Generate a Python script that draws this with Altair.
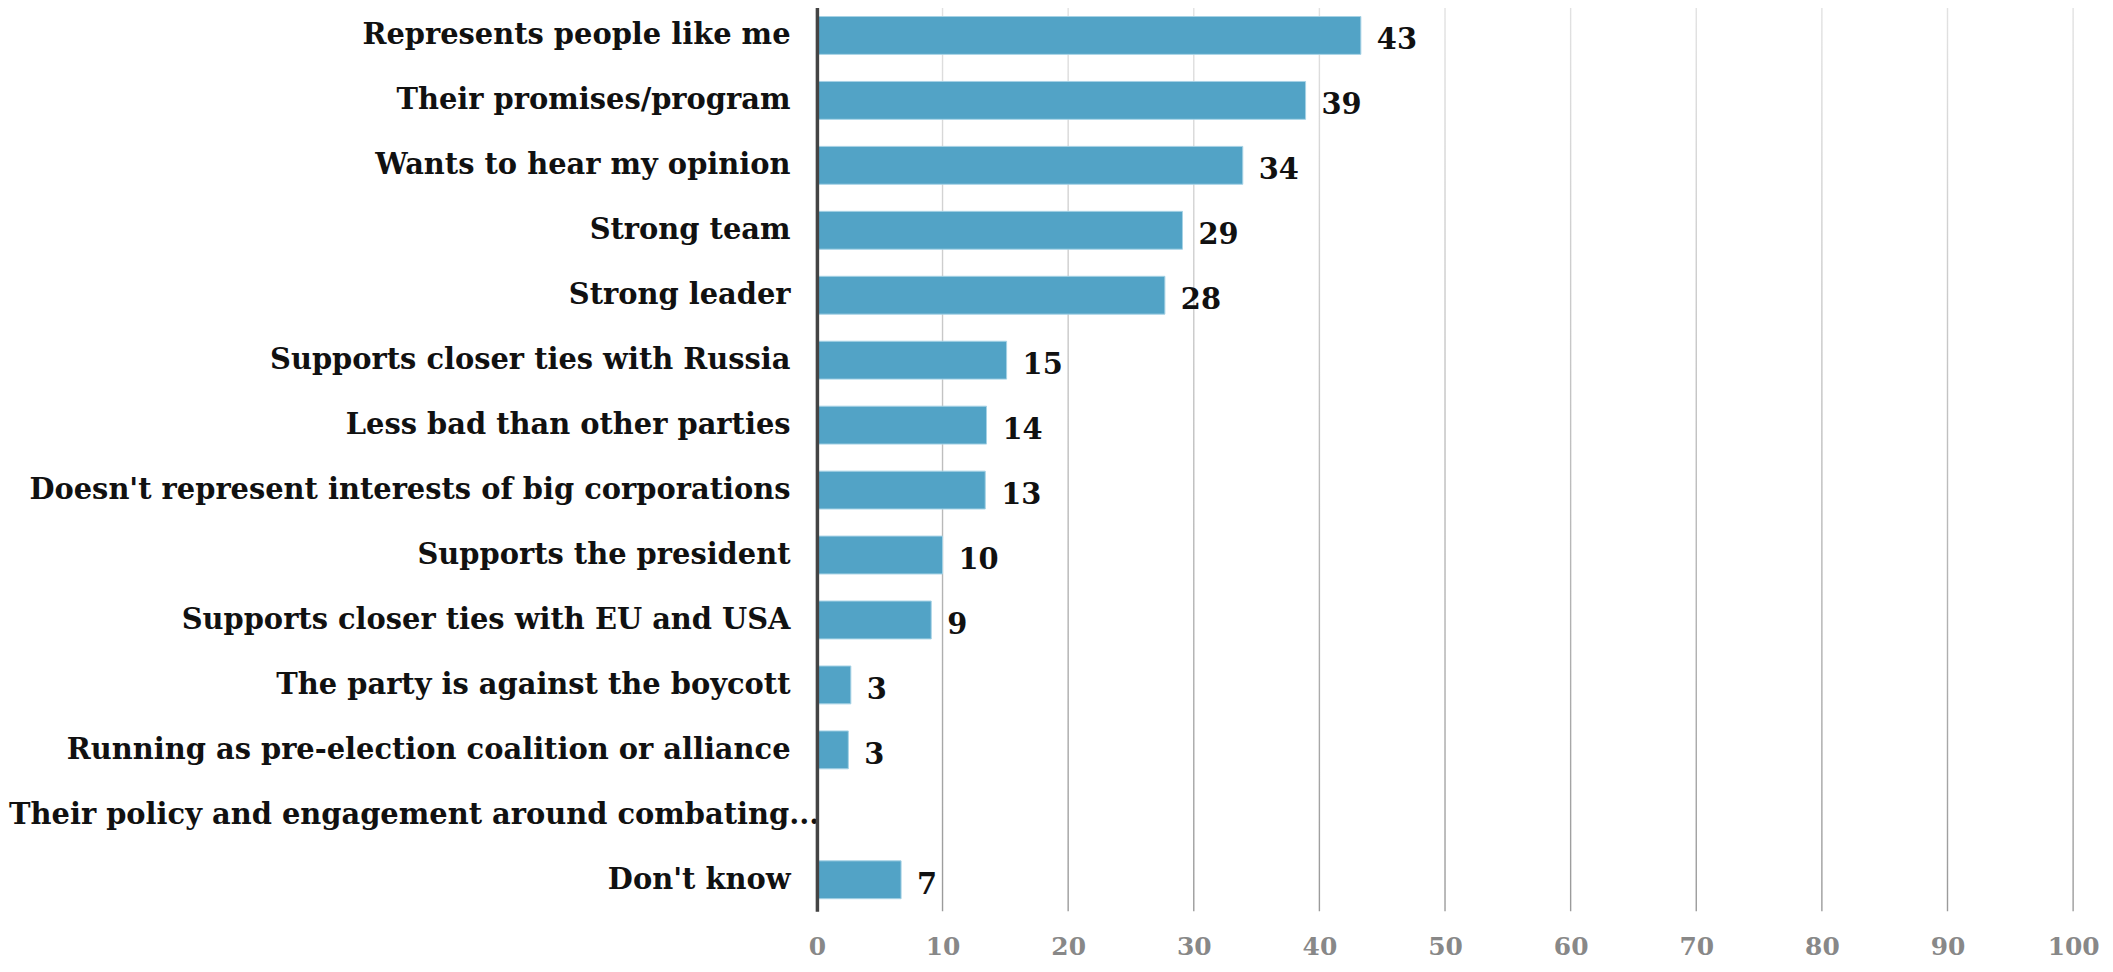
import altair as alt
import pandas as pd

categories = [
    "Represents people like me",
    "Their promises/program",
    "Wants to hear my opinion",
    "Strong team",
    "Strong leader",
    "Supports closer ties with Russia",
    "Less bad than other parties",
    "Doesn't represent interests of big corporations",
    "Supports the president",
    "Supports closer ties with EU and USA",
    "The party is against the boycott",
    "Running as pre-election coalition or alliance",
    "Their policy and engagement around combating...",
    "Don't know",
]
values = [43.3, 38.9, 33.9, 29.1, 27.7, 15.1, 13.5, 13.4, 10.0, 9.1, 2.7, 2.5, None, 6.7]
value_labels = ["43", "39", "34", "29", "28", "15", "14", "13", "10", "9", "3", "3", "", "7"]
x_ticks = [0, 10, 20, 30, 40, 50, 60, 70, 80, 90, 100]

df = pd.DataFrame({"category": categories, "value": values, "label": value_labels})
grid_df = pd.DataFrame({"tick": x_ticks})

FONT = "DejaVu Serif"
long_label = "Their policy and engagement around combating..."

x_scale = alt.Scale(domain=[0, 100], nice=False)

y_enc = alt.Y(
    "category:N",
    sort=categories,
    scale=alt.Scale(paddingInner=0.417, paddingOuter=0.195),
    axis=alt.Axis(
        title=None,
        ticks=False,
        tickSize=0,
        domain=True,
        domainColor="#444444",
        domainWidth=3.5,
        grid=False,
        labelFont=FONT,
        labelFontWeight="bold",
        labelFontSize=29,
        labelColor="#111111",
        labelLimit=1200,
        labelPadding=alt.expr(f"datum.value == '{long_label}' ? -2 : 27"),
        zindex=2,
    ),
)

x_enc = alt.X(
    "value:Q",
    scale=x_scale,
    axis=alt.Axis(
        values=x_ticks,
        title=None,
        domain=False,
        ticks=False,
        tickSize=0,
        grid=False,
        labelFont=FONT,
        labelFontWeight="bold",
        labelFontSize=25,
        labelColor="#888888",
        labelPadding=23,
        labelFlush=False,
    ),
)

grid_gradient = alt.LinearGradient(
    gradient="linear",
    stops=[
        alt.GradientStop(color="#e2e2e2", offset=0),
        alt.GradientStop(color="#9a9a9a", offset=1),
    ],
    x1=0, x2=0, y1=0, y2=1,
)

grid = alt.Chart(grid_df).mark_rect(
    fill=grid_gradient, xOffset=-0.7, x2Offset=0.7
).encode(
    x=alt.X("tick:Q", scale=x_scale),
    x2="tick:Q",
    y=alt.value(0),
    y2=alt.value({"expr": "height"}),
)

bars = alt.Chart(df).mark_bar(
    color="#52a3c6", stroke="#a6d2e5", strokeWidth=1
).encode(x=x_enc, y=y_enc)

text = alt.Chart(df).mark_text(
    align="left", baseline="middle", dx=16, dy=5,
    font=FONT, fontWeight="bold", fontSize=29, color="#111111"
).encode(x="value:Q", y=alt.Y("category:N", sort=categories), text="label:N")

chart = alt.layer(grid, bars, text).properties(
    width=1261,
    height=911,
    autosize=alt.AutoSizeParams(type="none"),
    padding={"left": 812, "top": -6, "right": 32, "bottom": 49},
    background="white",
).configure_view(stroke=None)

chart.save("out.html", embed_options={"renderer": "svg", "actions": False})
